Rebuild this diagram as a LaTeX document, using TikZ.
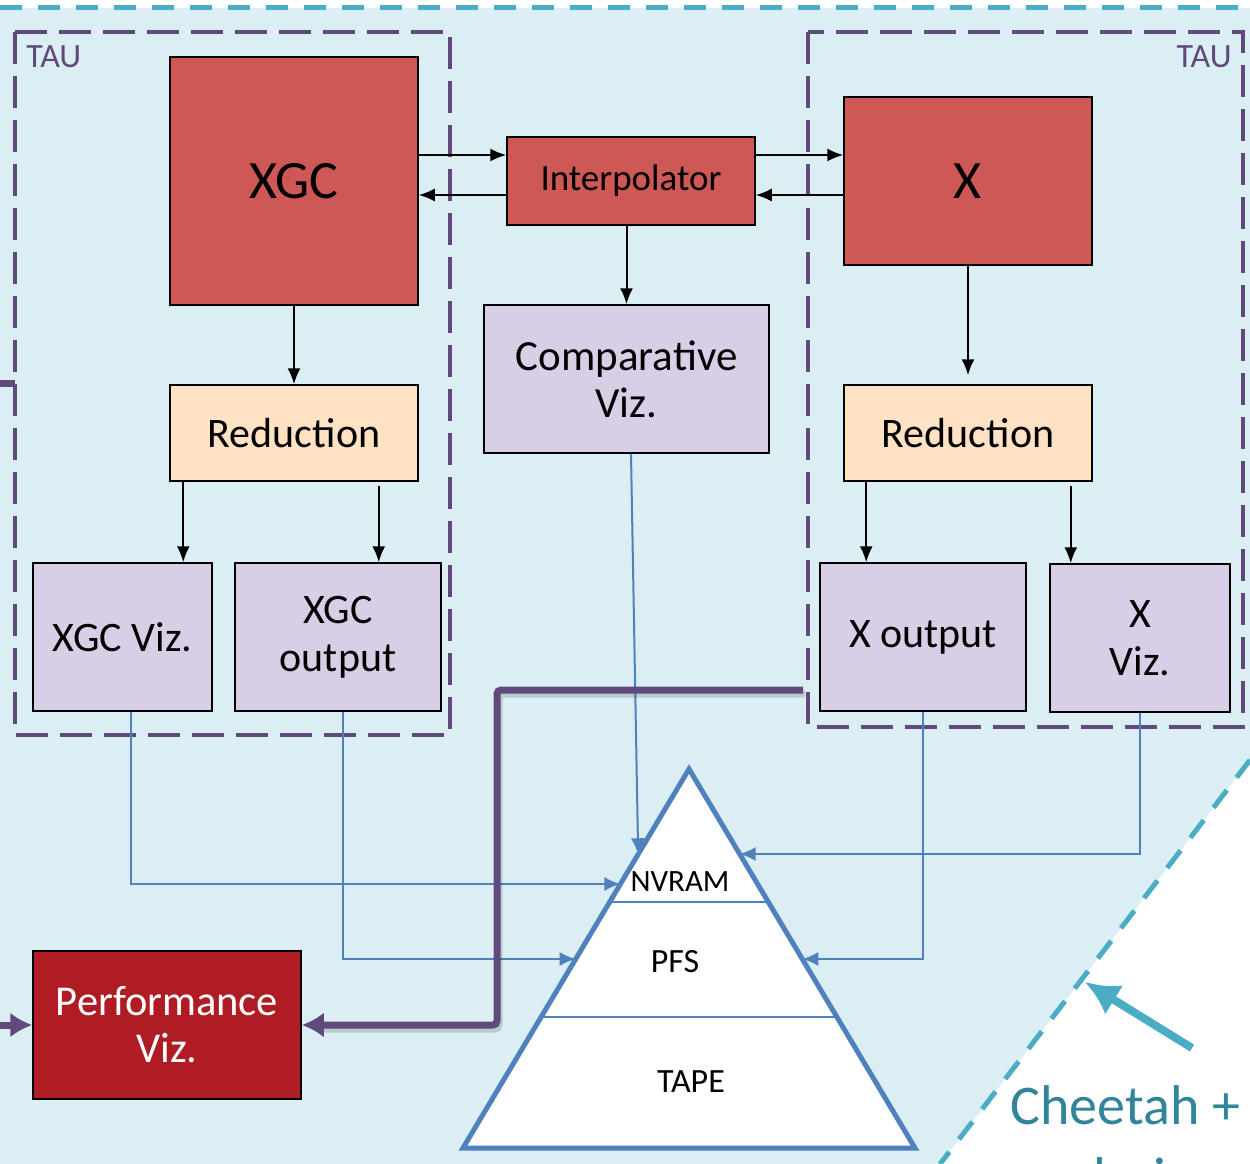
\documentclass[tikz,border=0pt]{standalone}
\usepackage{fontspec}
\setmainfont{Carlito}
\usetikzlibrary{arrows.meta,calc}

\definecolor{bgblue}{RGB}{219,238,244}
\definecolor{cheetah}{RGB}{75,172,198}
\definecolor{cheetahtxt}{RGB}{49,133,155}
\definecolor{taupurple}{RGB}{96,74,123}
\definecolor{simred}{RGB}{206,88,85}
\definecolor{perfred}{RGB}{175,28,35}
\definecolor{redpeach}{RGB}{255,225,196}
\definecolor{vizlav}{RGB}{216,207,230}
\definecolor{ioblue}{RGB}{79,129,189}

\begin{document}
\begin{tikzpicture}[x=1pt,y=-1pt,style=thick]
\tikzstyle{box}=[draw=black,line width=1.5pt,shape=rectangle,align=center,inner sep=0pt]
\tikzstyle{sim}=[box,fill=simred]
\tikzstyle{red}=[box,fill=redpeach,font=\fontsize{42}{50}\selectfont]
\tikzstyle{viz}=[box,fill=vizlav,font=\fontsize{42}{48}\selectfont]
\tikzstyle{tau}=[draw=taupurple,line width=4pt,dash pattern=on 32pt off 12pt]
\tikzstyle{taulabel}=[text=taupurple,font=\fontsize{34}{38}\selectfont,inner sep=0pt]
\tikzstyle{flow}=[draw=black,line width=2pt,-{Latex[length=16pt,width=13pt]}]
\tikzstyle{io}=[draw=ioblue,line width=2pt,-{Latex[length=16pt,width=14pt]}]
\tikzstyle{perfline}=[draw=taupurple,line width=7pt,-{Latex[length=22pt,width=25pt]}]
\useasboundingbox (0,0) rectangle (1250,1164);
\clip (0,0) rectangle (1250,1164);

% background with the Cheetah border
\fill[white] (0,0) rectangle (1250,1164);
\fill[bgblue] (0,8) -- (1250,8) -- (1250,760) -- (940,1164) -- (0,1164) -- cycle;
\draw[cheetah,line width=5pt,dash pattern=on 22pt off 16pt] (0,8) -- (1250,8);
\draw[cheetah,line width=5pt,dash pattern=on 22pt off 16pt] (1250,760) -- (940,1164);

% TAU regions
\draw[tau] (15,32) rectangle (450,735);
\draw[tau] (808,32) rectangle (1243,727);
\node[taulabel,anchor=north west] (tau_L) at (26,45) {TAU};
\node[taulabel,anchor=north east] (tau_R) at (1232,45) {TAU};

% simulations and interpolator
\node[sim,minimum width=248pt,minimum height=248pt,font=\fontsize{54}{60}\selectfont] (XGC) at (294,181) {XGC};
\node[sim,minimum width=248pt,minimum height=88pt,font=\fontsize{37}{42}\selectfont] (Interp) at (631,181) {Interpolator};
\node[sim,minimum width=248pt,minimum height=168pt,font=\fontsize{54}{60}\selectfont] (X_sim) at (968,181) {X};

% reductions and outputs
\node[red,minimum width=248pt,minimum height=96pt] (Red_L) at (294,433) {Reduction};
\node[red,minimum width=248pt,minimum height=96pt] (Red_R) at (968,433) {Reduction};
\node[viz,minimum width=285pt,minimum height=148pt,font=\fontsize{43}{47}\selectfont] (Comp) at (626.5,379) {Comparative\\Viz.};
\node[viz,minimum width=179pt,minimum height=148pt] (XGC_viz) at (122.5,637) {XGC Viz.};
\node[viz,minimum width=206pt,minimum height=148pt] (XGC_out) at (338,637) {XGC\\output};
\node[viz,minimum width=206pt,minimum height=148pt] (X_out) at (923,637) {X output};
\node[viz,minimum width=180pt,minimum height=148pt] (X_viz) at (1140,638) {X\\Viz.};
\node[box,fill=perfred,text=white,minimum width=268pt,minimum height=148pt,font=\fontsize{42.5}{47}\selectfont] (Perf) at (167,1025) {Performance\\Viz.};

% storage pyramid
\coordinate (apex) at (689,769);
\coordinate (base_L) at (463,1148);
\coordinate (base_R) at (915,1148);
\draw[draw=ioblue,line width=5pt,fill=white,line join=miter] (apex) -- (base_L) -- (base_R) -- cycle;
\draw[ioblue,line width=2.5pt] ($(apex)!0.351!(base_L)$) -- ($(apex)!0.351!(base_R)$);
\draw[ioblue,line width=2.5pt] ($(apex)!0.654!(base_L)$) -- ($(apex)!0.654!(base_R)$);
\node[font=\fontsize{31}{36}\selectfont,inner sep=0pt] (NVRAM) at (680,882) {NVRAM};
\node[font=\fontsize{34}{38}\selectfont,inner sep=0pt] (PFS) at (675,962) {PFS};
\node[font=\fontsize{34}{38}\selectfont,inner sep=0pt] (TAPE) at (691,1082) {TAPE};
\coordinate (nv_L) at ($(apex)!0.3034!(base_L)$);
\coordinate (nv_R) at ($(apex)!0.2243!(base_R)$);
\coordinate (pfs_L) at ($(apex)!0.5013!(base_L)$);
\coordinate (pfs_R) at ($(apex)!0.5013!(base_R)$);
\coordinate (cmp_in) at ($(apex)!0.225!(base_L)$);

% coupling
\draw[flow] ([yshift=26pt]XGC.east) -- ([yshift=26pt]Interp.west);
\draw[flow] ([yshift=-14pt]Interp.west) -- ([yshift=-14pt]XGC.east);
\draw[flow] ([yshift=26pt]Interp.east) -- ([yshift=26pt]X_sim.west);
\draw[flow] ([yshift=-14pt]X_sim.west) -- ([yshift=-14pt]Interp.east);
\draw[flow] (Interp.south -| Comp.north) -- (Comp.north);
\draw[flow] (XGC.south) -- (Red_L.north);
\draw[flow] (X_sim.south) -- ([yshift=9pt]Red_R.north);
\draw[flow] ([xshift=14pt]Red_L.south west) -- ([xshift=14pt]Red_L.south west |- XGC_viz.north);
\draw[flow] ([xshift=-40pt,yshift=-4pt]Red_L.south east) -- ([xshift=-40pt]Red_L.south east |- XGC_out.north);
\draw[flow] ([xshift=23pt]Red_R.south west) -- ([xshift=23pt]Red_R.south west |- X_out.north);
\draw[flow] ([xshift=-22pt,yshift=-4pt]Red_R.south east) -- ([xshift=-22pt]Red_R.south east |- X_viz.north);

% data to storage
\draw[io] ([xshift=4.5pt]Comp.south) -- (cmp_in);
\draw[io] ([xshift=8.5pt]XGC_viz.south) |- (nv_L);
\draw[io] ([xshift=5pt]XGC_out.south) |- (pfs_L);
\draw[io] (X_out.south) |- (pfs_R);
\draw[io] (X_viz.south) |- (nv_R);

% performance data
\coordinate (perf_src) at (803,690);
\coordinate (perf_in) at (0,1025);
\coordinate (stub_a) at (0,383);
\coordinate (stub_b) at (15,383);
\draw[black,opacity=.15,line width=7pt,rounded corners=4pt] ([shift={(2pt,-4pt)}]perf_src) -- ++(-306,0) -- ++(0,335) -- ++(-180,0);
\draw[perfline,rounded corners=4pt] (perf_src) -- (497,690) -- (497,1025) -- (Perf.east);
\draw[perfline] (perf_in) -- (Perf.west);
\draw[taupurple,line width=7pt] (stub_a) -- (stub_b);

% Cheetah label
\draw[cheetah,line width=8pt,-{Latex[length=34pt,width=34pt]}] (1192,1048) -- (1085,982);
\node[text=cheetahtxt,font=\fontsize{56}{72}\selectfont,align=left,anchor=north west,inner sep=0pt] (cheetah_lbl) at (1010,1085) {Cheetah +\\analysis};
\end{tikzpicture}
\end{document}
